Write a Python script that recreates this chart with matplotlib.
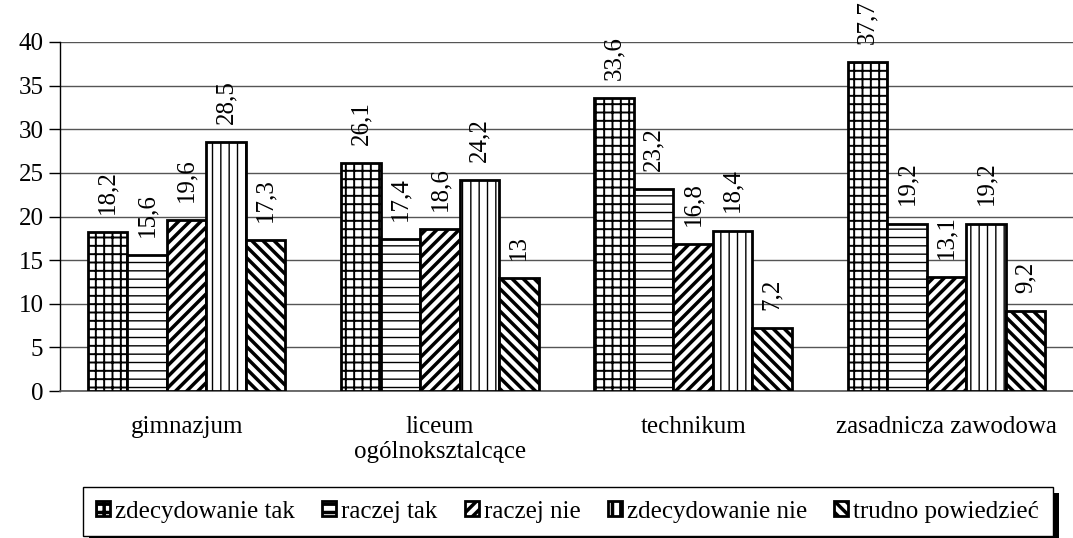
import matplotlib.pyplot as plt
import numpy as np
from matplotlib.patches import Rectangle

plt.rcParams['font.family'] = ['Liberation Serif', 'DejaVu Serif']
plt.rcParams['font.size'] = 18

categories = ['gimnazjum', 'liceum\nogólnokszta' + 'lcące', 'technikum', 'zasadnicza zawodowa']
series = ['zdecydowanie tak', 'raczej tak', 'raczej nie', 'zdecydowanie nie', 'trudno powiedzieć']
values = [
    [18.2, 26.1, 33.6, 37.7],   # zdecydowanie tak
    [15.6, 17.4, 23.2, 19.2],   # raczej tak
    [19.6, 18.6, 16.8, 13.1],   # raczej nie
    [28.5, 24.2, 18.4, 19.2],   # zdecydowanie nie
    [17.3, 13.0, 7.2, 9.2],     # trudno powiedzieć
]
yticks = [0, 5, 10, 15, 20, 25, 30, 35, 40]

hatches = ['++', '--', '///', '||', '\\\\\\']
hatch_lw = [1.4, 1.0, 2.5, 1.0, 2.5]

fig = plt.figure(figsize=(10.73, 5.38), dpi=100)
ax = fig.add_axes([0.056, 0.273, 0.944, 0.649])

x = np.arange(len(categories))
w = 0.156
for i, (name, vals) in enumerate(zip(series, values)):
    pos = x + (i - 2) * w
    plt.rcParams['hatch.linewidth'] = hatch_lw[i]
    bars = ax.bar(pos, vals, w, color='white', edgecolor='black', linewidth=2,
                  hatch=hatches[i], label=name, zorder=3)
    for b in bars:
        if hasattr(b, 'set_hatch_linewidth'):
            b.set_hatch_linewidth(hatch_lw[i])
    for p, v in zip(pos, vals):
        ax.annotate(f'{v:g}'.replace('.', ','), (p, v), xytext=(0, 13),
                    textcoords='offset points', rotation=90,
                    ha='center', va='bottom', fontsize=18, annotation_clip=False)

ax.set_xlim(-0.5, 3.5)
ax.set_ylim(0, 40)
ax.set_yticks(yticks)
ax.set_xticks(x)
ax.set_xticklabels(categories, fontsize=18, linespacing=1.15)
ax.tick_params(axis='x', length=0, pad=18)
ax.tick_params(axis='y', length=8, width=1, pad=4)
ax.yaxis.grid(True, color='#555555', linewidth=1, zorder=0)
for s in ['top', 'right']:
    ax.spines[s].set_visible(False)
ax.spines['left'].set_linewidth(1)
ax.spines['bottom'].set_color('#555555')
ax.spines['bottom'].set_linewidth(1.2)

leg = fig.legend(loc='center', bbox_to_anchor=(0.529, 0.049), ncol=5, fontsize=18,
                 frameon=True, fancybox=False, edgecolor='black', framealpha=1,
                 handlelength=0.55, handleheight=0.55, handletextpad=0.2,
                 columnspacing=1.1, borderpad=0.55)
leg.get_frame().set_linewidth(1)

# drop shadow behind the legend box
fig.canvas.draw()
bb = leg.get_window_extent()
shadow = Rectangle((bb.x0 + 6, bb.y0 - 6), bb.width, bb.height, transform=None,
                   facecolor='black', edgecolor='none', zorder=leg.get_zorder() - 1)
fig.patches.append(shadow)

fig.savefig('out.png', dpi=100)
